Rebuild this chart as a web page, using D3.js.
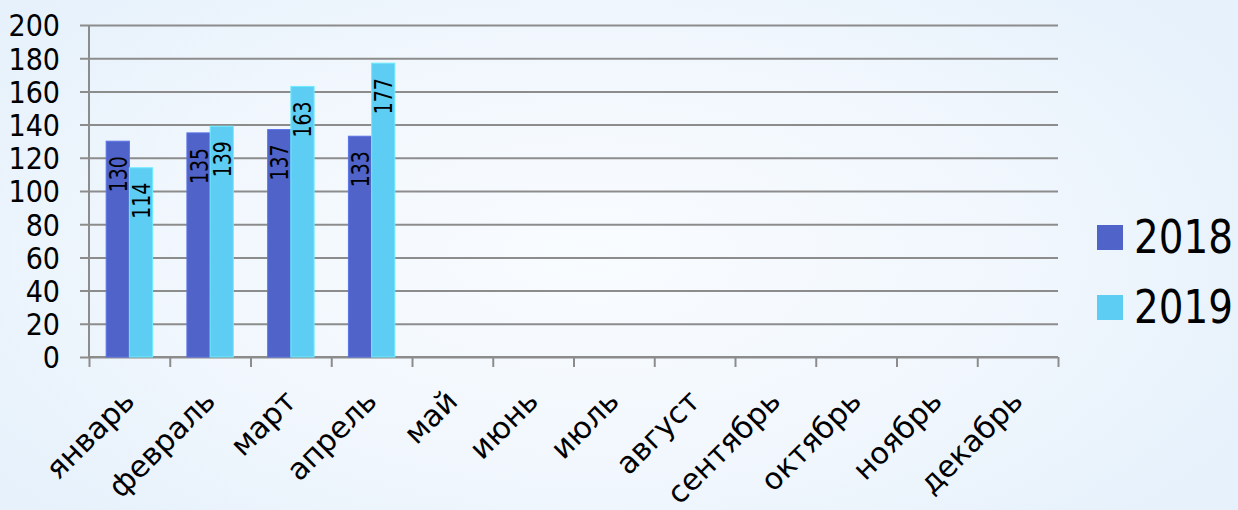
<!DOCTYPE html>
<html lang="ru">
<head>
<meta charset="UTF-8">
<title>2018 / 2019</title>
<style>
  html, body { margin: 0; padding: 0; }
  body {
    width: 1238px; height: 510px; overflow: hidden;
    background: radial-gradient(ellipse 60% 75% at 48% 50%, #f9fcff 0%, #f1f7fd 55%, #e6f1fb 100%);
  }
  svg text { font-family: "DejaVu Sans", sans-serif; fill: #000; }
  .cond { font-stretch: condensed; }
</style>
</head>
<body>
<svg width="1238" height="510"></svg>

<script src="https://cdn.jsdelivr.net/npm/d3@7"></script>
<script>
    var months = ["январь", "февраль", "март", "апрель", "май", "июнь",
                  "июль", "август", "сентябрь", "октябрь", "ноябрь", "декабрь"];
    var years = ["2018", "2019"];
    var values2018 = [130, 135, 137, 133];
    var values2019 = [114, 139, 163, 177];
    var yTicks = [0, 20, 40, 60, 80, 100, 120, 140, 160, 180, 200];
    var colors = ["#4f63c8", "#5ecdf3"];

    var svg = d3.select("svg");
    var plot = {left: 89, right: 1058, top: 25, bottom: 357};

    var x = d3.scaleBand().domain(months).range([plot.left, plot.right]);
    var xYear = d3.scaleBand().domain(years).range([0, x.bandwidth()]).paddingOuter(0.74);
    var xEdges = d3.scaleLinear().domain([0, months.length]).range([plot.left, plot.right]);
    var y = d3.scaleLinear().domain([0, 200]).range([plot.bottom, plot.top]);

    // grid lines + y labels, drawn from the right edge back past the axis
    var grid = svg.append("g")
        .attr("transform", "translate(" + plot.right + ",0)")
        .call(d3.axisLeft(y).tickValues(yTicks).tickSize(plot.right - plot.left + 9).tickPadding(20));
    grid.select(".domain").remove();
    grid.selectAll("line").attr("stroke", "#8c8c8c").attr("stroke-width", 2);
    grid.selectAll("text")
        .attr("class", "cond")
        .style("font-size", "30px")
        .attr("dy", "0.36em");

    // y axis line
    svg.append("line")
        .attr("x1", plot.left).attr("x2", plot.left)
        .attr("y1", y(200)).attr("y2", y(0))
        .attr("stroke", "#8c8c8c").attr("stroke-width", 2);

    // x axis with ticks on category edges
    var xAxis = svg.append("g")
        .attr("transform", "translate(0," + plot.bottom + ")")
        .call(d3.axisBottom(xEdges).tickValues(d3.range(months.length + 1)).tickSize(10).tickFormat(""));
    xAxis.select(".domain").attr("stroke", "#8c8c8c").attr("stroke-width", 2)
        .attr("d", "M" + plot.left + ",0H" + plot.right);
    xAxis.selectAll("line").attr("stroke", "#8c8c8c").attr("stroke-width", 2);

    // month labels
    svg.append("g").selectAll("text")
        .data(months)
        .enter().append("text")
        .attr("transform", function(d) {
            return "translate(" + (x(d) + x.bandwidth() / 2 + 7) + ",403) rotate(-45)";
        })
        .attr("text-anchor", "end")
        .style("font-size", "30px")
        .text(function(d) { return d; });

    // bars
    var rows = [];
    values2018.forEach(function(v, i) { rows.push({month: months[i], year: "2018", value: v, k: 0}); });
    values2019.forEach(function(v, i) { rows.push({month: months[i], year: "2019", value: v, k: 1}); });

    var bars = svg.append("g");
    bars.selectAll("rect")
        .data(rows)
        .enter().append("rect")
        .attr("x", function(d) { return x(d.month) + xYear(d.year); })
        .attr("y", function(d) { return y(d.value); })
        .attr("width", xYear.bandwidth())
        .attr("height", function(d) { return y(0) - y(d.value); })
        .attr("fill", function(d) { return colors[d.k]; })
        .attr("stroke", function(d) { return d3.color(colors[d.k]).brighter(0.4); })
        .attr("stroke-width", 1);

    // value labels, vertical, inside the top of each bar
    bars.selectAll("text")
        .data(rows)
        .enter().append("text")
        .attr("class", "cond")
        .attr("transform", function(d) {
            var cx = x(d.month) + xYear(d.year) + xYear.bandwidth() / 2;
            return "translate(" + cx + "," + (y(d.value) + 15) + ") rotate(-90) scale(0.84,1)";
        })
        .attr("text-anchor", "end")
        .attr("dy", "0.36em")
        .style("font-size", "25px")
        .text(function(d) { return d.value; });

    // legend
    var legend = svg.append("g").selectAll("g")
        .data(years)
        .enter().append("g")
        .attr("transform", function(d, i) { return "translate(1097," + (225 + i * 70) + ")"; });
    legend.append("rect")
        .attr("width", 26).attr("height", 25)
        .attr("fill", function(d, i) { return colors[i]; });
    legend.append("text")
        .attr("class", "cond")
        .attr("transform", "translate(37,28) scale(0.92,1)")
        .style("font-size", "47px")
        .text(function(d) { return d; });
</script>
</body>
</html>
